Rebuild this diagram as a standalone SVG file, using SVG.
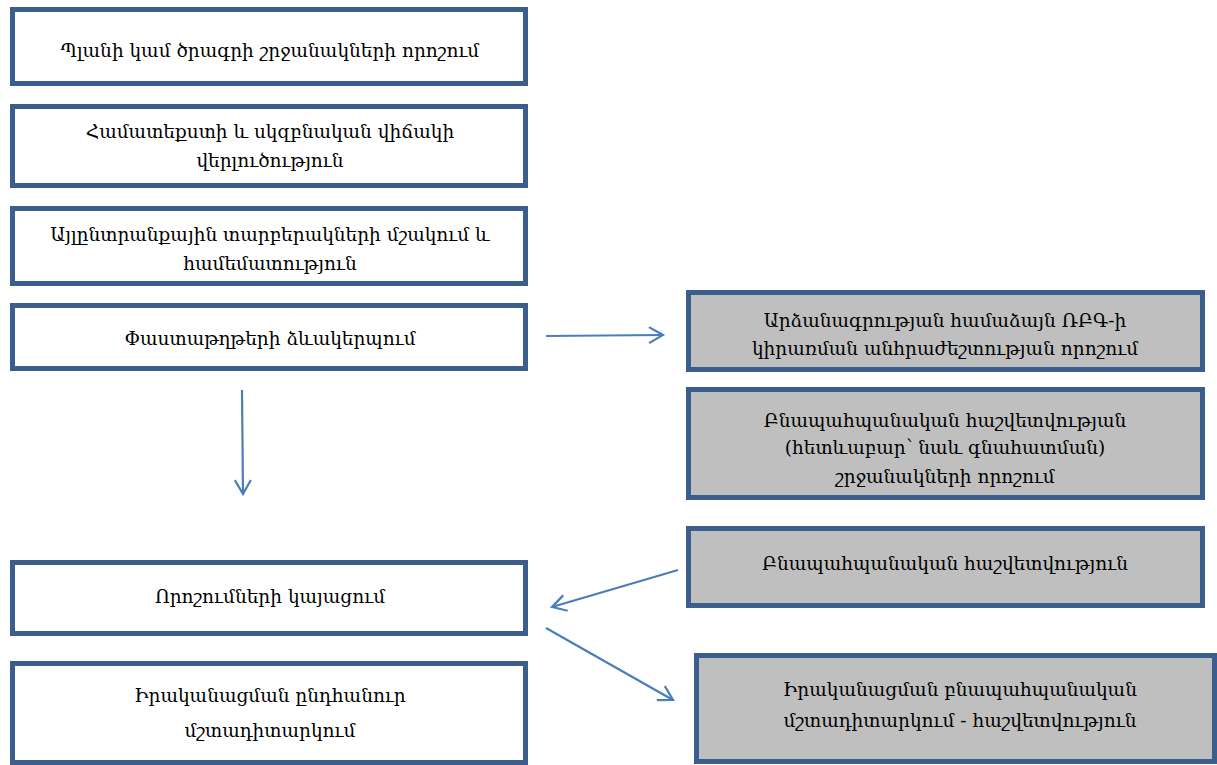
<svg xmlns="http://www.w3.org/2000/svg" width="1217" height="765" viewBox="0 0 1217 765">
<style>
.b{fill:#fff;stroke:#3B5E8C;stroke-width:5}
.g{fill:#BFBFBF;stroke:#3B5E8C;stroke-width:5}
text{font-family:"DejaVu Serif","Noto Serif Armenian","Noto Sans",serif;font-size:18.5px;fill:#000;text-anchor:middle;dominant-baseline:central}
.c{stroke:#4A7EBB;stroke-width:2.2;fill:none}
</style>
<defs>
<marker id="a" viewBox="0 0 20 20" refX="18" refY="10" markerWidth="20" markerHeight="20" markerUnits="userSpaceOnUse" orient="auto">
<path d="M4,2 L18,10 L4,18" fill="none" stroke="#4A7EBB" stroke-width="2.2"/>
</marker>
</defs>
<g id="n1"><rect class="b" x="12.5" y="9.5" width="513" height="74"/><text x="270" y="50">Պլանի կամ ծրագրի շրջանակների որոշում</text></g>
<g id="n2"><rect class="b" x="12.5" y="106.5" width="513" height="79"/><text x="270" y="131">Համատեքստի և սկզբնական վիճակի</text><text x="270" y="160">վերլուծություն</text></g>
<g id="n3"><rect class="b" x="12.5" y="208.5" width="513" height="75"/><text x="270" y="234">Այլընտրանքային տարբերակների մշակում և</text><text x="270" y="263">համեմատություն</text></g>
<g id="n4"><rect class="b" x="12.5" y="305.5" width="513" height="63"/><text x="270" y="338">Փաստաթղթերի ձևակերպում</text></g>
<g id="n5"><rect class="b" x="12.5" y="562.5" width="513" height="71"/><text x="270" y="596">Որոշումների կայացում</text></g>
<g id="n6"><rect class="b" x="12.5" y="663.5" width="513" height="99"/><text x="270" y="695">Իրականացման ընդհանուր</text><text x="270" y="730">մշտադիտարկում</text></g>
<g id="r1"><rect class="g" x="688.5" y="292.5" width="514" height="77"/><text x="945" y="320">Արձանագրության համաձայն ՌԲԳ-ի</text><text x="945" y="348">կիրառման անհրաժեշտության որոշում</text></g>
<g id="r2"><rect class="g" x="688.5" y="389.5" width="514" height="108"/><text x="945" y="420">Բնապահպանական հաշվետվության</text><text x="945" y="447">(հետևաբար՝ նաև գնահատման)</text><text x="945" y="476">շրջանակների որոշում</text></g>
<g id="r3"><rect class="g" x="688.5" y="528.5" width="514" height="77"/><text x="945" y="563">Բնապահպանական հաշվետվություն</text></g>
<g id="r4"><rect class="g" x="696.5" y="655.5" width="518" height="106"/><text x="960" y="689">Իրականացման բնապահպանական</text><text x="960" y="720">մշտադիտարկում - հաշվետվություն</text></g>
<g id="connectors">
<line class="c" x1="546" y1="336" x2="663" y2="335" marker-end="url(#a)"/>
<line class="c" x1="242" y1="390" x2="243" y2="494" marker-end="url(#a)"/>
<line class="c" x1="678" y1="570" x2="552" y2="607" marker-end="url(#a)"/>
<line class="c" x1="546" y1="628" x2="673" y2="700" marker-end="url(#a)"/>
</g>
</svg>
